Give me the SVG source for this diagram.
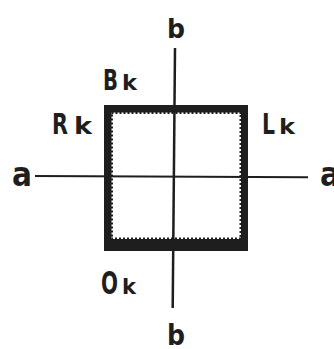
<svg xmlns="http://www.w3.org/2000/svg" width="334" height="349" viewBox="0 0 334 349">
<style>
.lbl{font-family:"DejaVu Sans","Liberation Sans",sans-serif;font-weight:bold;fill:#1e1e1e}
.ax{stroke:#1e1e1e;fill:none;stroke-linecap:butt}
</style>
<rect width="334" height="349" fill="#ffffff"/>
<g id="square">
<rect x="104" y="105" width="144" height="146" fill="#1e1e1e"/>
<rect x="111.5" y="112.5" width="129.5" height="126.5" fill="#ffffff"/>
<rect x="111.5" y="112.5" width="129.5" height="126.5" fill="none" stroke="#1e1e1e" stroke-width="3" stroke-dasharray="2 2"/>
</g>
<g id="connectors">
<line class="ax" x1="175" y1="48" x2="172.7" y2="308" stroke-width="2.5"/>
<line class="ax" x1="35" y1="176" x2="308" y2="177.3" stroke-width="2"/>
</g>
<g id="label-b-top"><text class="lbl" x="167" y="38" font-size="27" textLength="18" lengthAdjust="spacingAndGlyphs">b</text></g>
<g id="label-b-bottom"><text class="lbl" x="167" y="345" font-size="29" textLength="18" lengthAdjust="spacingAndGlyphs">b</text></g>
<g id="label-a-left"><text class="lbl" x="12" y="186" font-size="33" textLength="20" lengthAdjust="spacingAndGlyphs">a</text></g>
<g id="label-a-right"><text class="lbl" x="320" y="186" font-size="33" textLength="20" lengthAdjust="spacingAndGlyphs">a</text></g>
<g id="label-Bk">
<text class="lbl" x="103" y="90" font-size="29" textLength="15" lengthAdjust="spacingAndGlyphs">B</text>
<text class="lbl" x="122" y="90" font-size="21" textLength="15" lengthAdjust="spacingAndGlyphs">k</text>
</g>
<g id="label-Rk">
<text class="lbl" x="52" y="134" font-size="29" textLength="16" lengthAdjust="spacingAndGlyphs">R</text>
<text class="lbl" x="74" y="134" font-size="23" textLength="18" lengthAdjust="spacingAndGlyphs">k</text>
</g>
<g id="label-Lk">
<text class="lbl" x="262" y="134" font-size="29" textLength="13" lengthAdjust="spacingAndGlyphs">L</text>
<text class="lbl" x="279" y="134" font-size="21" textLength="16" lengthAdjust="spacingAndGlyphs">k</text>
</g>
<g id="label-Ok">
<text class="lbl" x="101" y="294" font-size="32" textLength="17" lengthAdjust="spacingAndGlyphs">O</text>
<text class="lbl" x="122" y="294" font-size="21" textLength="14" lengthAdjust="spacingAndGlyphs">k</text>
</g>
</svg>
